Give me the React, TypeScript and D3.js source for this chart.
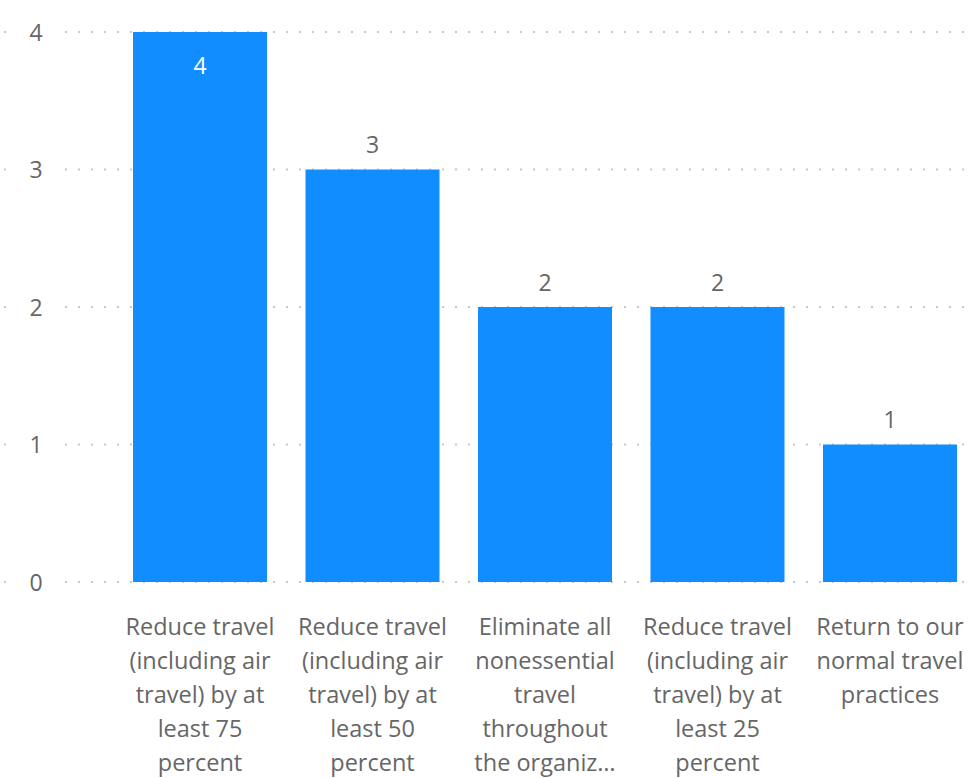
import React from "react";
import * as d3 from "d3";

const categories: string[] = [
  "Reduce travel (including air travel) by at least 75 percent",
  "Reduce travel (including air travel) by at least 50 percent",
  "Eliminate all nonessential travel throughout the organization",
  "Reduce travel (including air travel) by at least 25 percent",
  "Return to our normal travel practices",
];
const values: number[] = [4, 3, 2, 2, 1];
const categoryLabelLines: string[][] = [
  ["Reduce travel", "(including air", "travel) by at", "least 75", "percent"],
  ["Reduce travel", "(including air", "travel) by at", "least 50", "percent"],
  ["Eliminate all", "nonessential", "travel", "throughout", "the organiz…"],
  ["Reduce travel", "(including air", "travel) by at", "least 25", "percent"],
  ["Return to our", "normal travel", "practices"],
];
const yTicks: number[] = [0, 1, 2, 3, 4];

const W = 975;
const H = 778;
const FONT = "'Open Sans', 'DejaVu Sans', sans-serif";
const BLUE = "#118DFF";
const GREY = "#666666";

export default function App() {
  const y = d3.scaleLinear().domain([0, 4]).range([582, 32]);
  const pi = 38.5 / 172.5;
  const x = d3
    .scaleBand<string>()
    .domain(categories)
    .range([113.75, 976.25])
    .paddingInner(pi)
    .paddingOuter(pi / 2);

  return (
    <svg
      width={W}
      height={H}
      style={{ position: "absolute", left: 0, top: 0 }}
      fontFamily={FONT}
    >
      <rect width={W} height={H} fill="#fff" />
      {yTicks.map((t) => (
        <g key={t}>
          <line
            x1={4}
            x2={12}
            y1={y(t)}
            y2={y(t)}
            stroke="#c8c8c8"
            strokeWidth={2}
            strokeDasharray="2 11"
          />
          <line
            x1={65}
            x2={W}
            y1={y(t)}
            y2={y(t)}
            stroke="#c8c8c8"
            strokeWidth={2}
            strokeDasharray="2 11"
          />
          <text
            x={36}
            y={y(t) + 8.5}
            textAnchor="middle"
            fontSize={23}
            fill={GREY}
          >
            {t}
          </text>
        </g>
      ))}
      {categories.map((c, i) => {
        const v = values[i];
        const bx = x(c)!;
        const bw = x.bandwidth();
        const top = y(v);
        const inside = top - 42 < 10;
        return (
          <g key={c}>
            <rect x={bx} y={top} width={bw} height={y(0) - top} fill={BLUE} />
            <text
              x={bx + bw / 2}
              y={inside ? top + 42 : top - 16.5}
              textAnchor="middle"
              fontSize={23}
              fill={inside ? "#ffffff" : GREY}
            >
              {v}
            </text>
            {categoryLabelLines[i].map((ln, j) => (
              <text
                key={j}
                x={bx + bw / 2}
                y={634.5 + j * 34}
                textAnchor="middle"
                fontSize={23.5}
                fill={GREY}
              >
                {ln}
              </text>
            ))}
          </g>
        );
      })}
    </svg>
  );
}
